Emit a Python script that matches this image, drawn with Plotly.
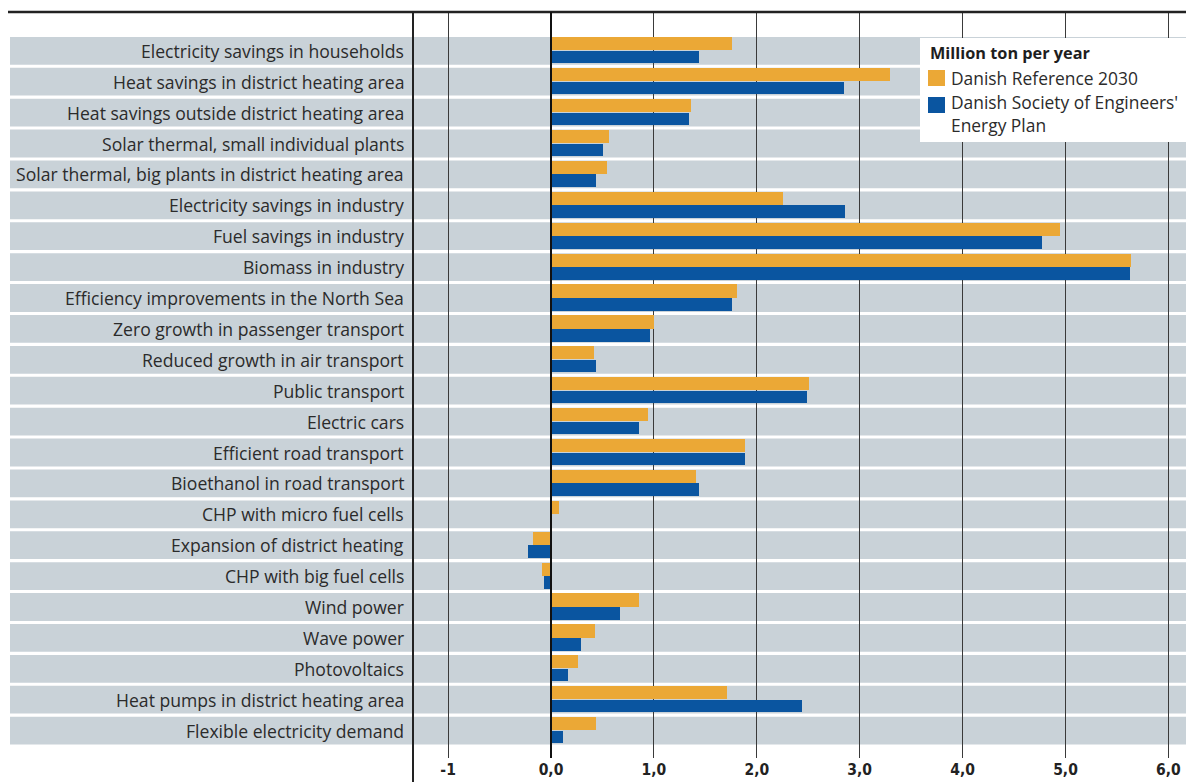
import plotly.graph_objects as go

categories = [
    "Electricity savings in households",
    "Heat savings in district heating area",
    "Heat savings outside district heating area",
    "Solar thermal, small individual plants",
    "Solar thermal, big plants in district heating area",
    "Electricity savings in industry",
    "Fuel savings in industry",
    "Biomass in industry",
    "Efficiency improvements in the North Sea",
    "Zero growth in passenger transport",
    "Reduced growth in air transport",
    "Public transport",
    "Electric cars",
    "Efficient road transport",
    "Bioethanol in road transport",
    "CHP with micro fuel cells",
    "Expansion of district heating",
    "CHP with big fuel cells",
    "Wind power",
    "Wave power",
    "Photovoltaics",
    "Heat pumps in district heating area",
    "Flexible electricity demand",
]
reference_2030 = [1.76, 3.29, 1.36, 0.56, 0.54, 2.25, 4.95, 5.64, 1.81, 1.00, 0.42,
                  2.51, 0.94, 1.89, 1.41, 0.08, -0.175, -0.09, 0.86, 0.43, 0.26, 1.71, 0.44]
engineers_plan = [1.44, 2.85, 1.34, 0.51, 0.44, 2.86, 4.77, 5.63, 1.76, 0.96, 0.44,
                  2.49, 0.86, 1.89, 1.44, 0.0, -0.22, -0.07, 0.67, 0.29, 0.17, 2.44, 0.12]
tick_values = [-1, 0, 1, 2, 3, 4, 5, 6]
tick_labels = ["-1", "0,0", "1,0", "2,0", "3,0", "4,0", "5,0", "6,0"]
series_names = ["Danish Reference 2030", "Danish Society of Engineers'<br>Energy Plan"]
legend_title = "Million ton per year"

ORANGE = "#EBA836"
BLUE = "#0A55A0"
BAND = "#C9D2D8"
TEXT = "#2b2b2b"

# page is rendered with an 8px body margin: design in page pixels, shift by OFF
OFF = 8
PAGE_W, PAGE_H = 1194, 782
W, H = PAGE_W - OFF, PAGE_H - OFF

zero_px, unit_px = 551, 102.9
def xv(px):
    return (px - zero_px) / unit_px

top_px, bottom_px = 12, 758
def py_paper(py):
    return 1 - (py - top_px) / (bottom_px - top_px)
def px_paper(px):
    return (px - OFF) / W

pitch, first_center = 30.9, 50.8
y_top = (top_px - first_center) / pitch
y_bottom = (bottom_px - first_center) / pitch

ypos = list(range(len(categories)))

fig = go.Figure()
fig.add_trace(go.Bar(
    y=ypos, x=reference_2030, orientation="h", name=series_names[0],
    marker=dict(color=ORANGE, line=dict(width=0)),
    offset=-0.44, width=0.43, showlegend=False,
))
fig.add_trace(go.Bar(
    y=ypos, x=engineers_plan, orientation="h", name=series_names[1],
    marker=dict(color=BLUE, line=dict(width=0)),
    offset=0.0, width=0.41, showlegend=False,
))

shapes = []
for i in ypos:
    shapes.append(dict(type="rect", xref="x", yref="y", x0=xv(10), x1=xv(PAGE_W),
                       y0=i - 0.45, y1=i + 0.45, fillcolor=BAND, line=dict(width=0),
                       layer="below"))
# top rule
shapes.append(dict(type="line", xref="paper", yref="paper", x0=0, x1=1, y0=1, y1=1,
                   line=dict(color="#222", width=2.5)))
# vertical rule separating labels
shapes.append(dict(type="line", xref="x", yref="paper", x0=xv(413), x1=xv(413),
                   y0=py_paper(PAGE_H + 5), y1=1,
                   line=dict(color="#222", width=2)))
# zero line
shapes.append(dict(type="line", xref="x", yref="paper", x0=0, x1=0, y0=0, y1=1,
                   line=dict(color="#111", width=2)))

annotations = []
for i, c in enumerate(categories):
    annotations.append(dict(x=xv(406), y=i, xref="x", yref="y", text=c, showarrow=False,
                            xanchor="right", yanchor="middle",
                            font=dict(family="Open Sans", size=17.6, color=TEXT)))

# manual legend box
shapes.append(dict(type="rect", xref="paper", yref="paper",
                   x0=px_paper(920), x1=1.0, y0=py_paper(142), y1=py_paper(38),
                   fillcolor="white", line=dict(width=0), layer="above"))
annotations.append(dict(x=px_paper(928), y=py_paper(53), xref="paper", yref="paper",
                        text="<b>" + legend_title + "</b>", showarrow=False,
                        xanchor="left", yanchor="middle",
                        font=dict(family="Open Sans", size=16.3, color="#1e1e1e")))
legend_rows = [(ORANGE, 70, 86, 78), (BLUE, 97, 113, 114)]
for (col, sy0, sy1, ty), name in zip(legend_rows, series_names):
    shapes.append(dict(type="rect", xref="paper", yref="paper",
                       x0=px_paper(928), x1=px_paper(945), y0=py_paper(sy1), y1=py_paper(sy0),
                       fillcolor=col, line=dict(width=0), layer="above"))
    annotations.append(dict(x=px_paper(949), y=py_paper(ty), xref="paper", yref="paper",
                            text=name, showarrow=False, xanchor="left", yanchor="middle",
                            align="left",
                            font=dict(family="Open Sans", size=17.4, color=TEXT)))

fig.update_layout(
    width=W, height=H,
    margin=dict(l=0, r=0, t=top_px - OFF, b=H - (bottom_px - OFF)),
    paper_bgcolor="white", plot_bgcolor="white",
    barmode="overlay",
    showlegend=False,
    xaxis=dict(range=[xv(OFF), xv(PAGE_W)], tickvals=tick_values,
               ticktext=tick_labels,
               showgrid=True, gridcolor="#3a3a3a", gridwidth=1.3, zeroline=False,
               showline=False, ticks="", automargin=False,
               tickfont=dict(family="DejaVu Sans Condensed, DejaVu Sans", size=15.5,
                             color="#222", weight="bold")),
    yaxis=dict(range=[y_bottom, y_top], showticklabels=False, showgrid=False,
               zeroline=False, showline=False, ticks="", automargin=False),
    shapes=shapes,
    annotations=annotations,
    bargap=0,
)

fig.write_html("out.html")
